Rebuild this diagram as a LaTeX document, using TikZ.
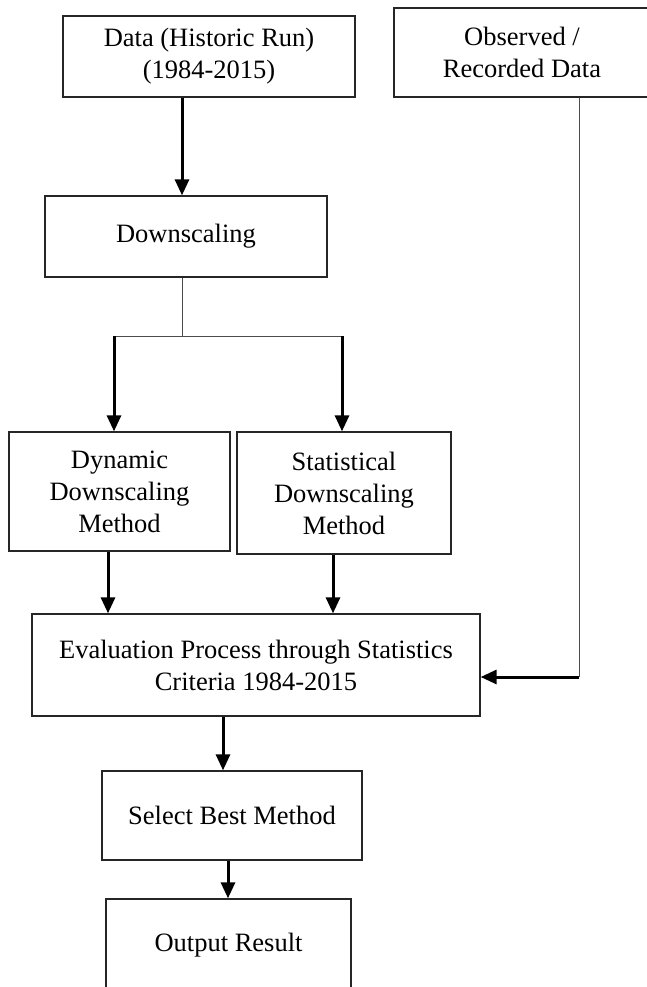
\documentclass[tikz,border=0pt]{standalone}
\usepackage{fontspec}
\setmainfont{Liberation Serif}
\usetikzlibrary{arrows.meta}
\begin{document}
\begin{tikzpicture}[x=1pt,y=-1pt,
  box/.style={draw=black!85,line width=1.3pt,fill=white,inner sep=0pt,align=center,
    font=\fontsize{26.5}{32}\selectfont},
  arr/.style={line width=3pt,-{Triangle[length=16pt,width=14pt]}},
  thinline/.style={draw=black!70,line width=1pt}]
\useasboundingbox (0,0) rectangle (646,987);
\node[box,minimum width=292pt,minimum height=81pt] (data) at (209,56.5) {Data (Historic Run)\\(1984-2015)};
\node[box,minimum width=256pt,minimum height=89pt] (obs) at (522,52.5) {Observed /\\Recorded Data};
\node[box,minimum width=282pt,minimum height=81pt] (down) at (186,236.5) {Downscaling};
\node[box,minimum width=221pt,minimum height=119pt] (dyn) at (119.5,491.5) {Dynamic\\Downscaling\\Method};
\node[box,minimum width=214pt,minimum height=122pt] (stat) at (344,493) {Statistical\\Downscaling\\Method};
\node[box,minimum width=448pt,minimum height=102pt] (eval) at (256,665) {Evaluation Process through Statistics\\Criteria 1984-2015};
\node[box,minimum width=260pt,minimum height=89pt] (sel) at (232,815.5) {Select Best Method};
\node[box,minimum width=245pt,minimum height=92pt] (out) at (228.5,945) {Output Result};
% data -> downscaling
\coordinate (a1) at ([xshift=-27pt]data.south);
\draw[arr] (a1) -- (a1 |- down.north);
% downscaling split
\coordinate (b0) at ([xshift=-4pt]down.south);
\coordinate (bar) at (182,336);
\coordinate (barL) at (114,336);
\coordinate (barR) at (342,336);
\draw[thinline] (b0) -- (bar);
\draw[thinline] (barL) -- (barR);
\draw[arr] (barL) -- (barL |- dyn.north);
\draw[arr] (barR) -- (barR |- stat.north);
% methods -> evaluation
\coordinate (d1) at ([xshift=-11.5pt]dyn.south);
\coordinate (s1) at ([xshift=-11pt]stat.south);
\draw[arr] (d1) -- (d1 |- eval.north);
\draw[arr] (s1) -- (s1 |- eval.north);
% observed -> evaluation
\coordinate (o1) at ([xshift=57pt]obs.south);
\coordinate (e1) at ([yshift=-12pt]eval.east);
\draw[thinline] (o1) -- (o1 |- e1);
\draw[arr] (o1 |- e1) -- (e1);
% evaluation -> select -> output
\coordinate (v1) at ([xshift=-33pt]eval.south);
\draw[arr] (v1) -- (v1 |- sel.north);
\coordinate (w1) at ([xshift=-4pt]sel.south);
\draw[arr] (w1) -- (w1 |- out.north);
\end{tikzpicture}
\end{document}
